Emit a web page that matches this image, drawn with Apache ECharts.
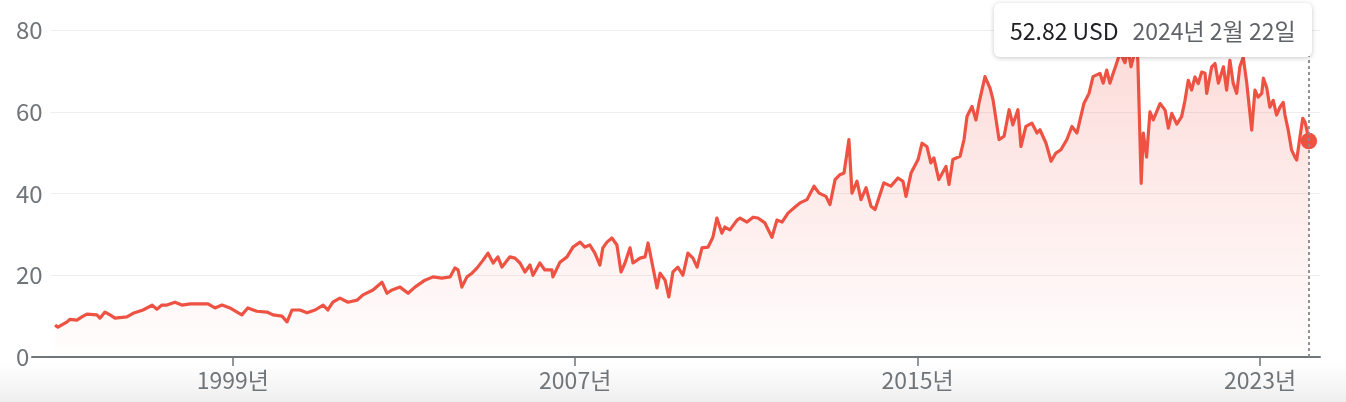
<!DOCTYPE html>
<html><head><meta charset="utf-8">
<script src="https://cdn.jsdelivr.net/npm/echarts@6/dist/echarts.min.js"></script>
<style>html,body{margin:0;padding:0;background:#fff;}#c{width:1346px;height:402px;}</style>
</head><body><div id="c"></div>
<script>
const dates = [
'1994-11-06','1994-12-01','1995-02-17','1995-03-12','1995-05-11','1995-06-23','1995-08-05','1995-10-29','1995-11-24',
'1996-01-06','1996-02-18','1996-04-01','1996-07-11','1996-09-02','1996-11-26',
'1997-02-12','1997-03-24','1997-05-06','1997-06-18','1997-08-25','1997-10-24',
'1998-01-01','1998-03-26','1998-06-03','1998-08-02','1998-10-01','1998-12-08',
'1999-02-06','1999-03-19','1999-05-09','1999-07-25','1999-10-19','1999-12-10',
'2000-02-25','2000-04-08','2000-05-20','2000-07-27','2000-09-26','2000-12-03',
'2001-02-10','2001-03-22','2001-05-04','2001-07-03','2001-09-10','2001-11-26',
'2002-01-16','2002-04-11','2002-06-27','2002-08-09','2002-09-21','2002-11-28',
'2003-02-05','2003-04-04','2003-06-29','2003-09-05','2003-11-21',
'2004-01-29','2004-03-10','2004-04-06','2004-05-09','2004-06-21','2004-08-03','2004-09-16','2004-11-06','2004-12-18',
'2005-01-31','2005-03-12','2005-04-16','2005-06-23','2005-08-05','2005-09-17','2005-10-29','2005-12-11',
'2006-01-06','2006-03-05','2006-04-17','2006-06-16','2006-06-25','2006-08-24','2006-10-23','2006-12-13',
'2007-02-12','2007-03-24','2007-05-06','2007-06-18','2007-07-31','2007-08-25','2007-09-29','2007-11-10','2007-12-23',
'2008-01-27','2008-03-01','2008-04-13','2008-05-08','2008-07-07','2008-08-19','2008-09-14','2008-10-18','2008-11-29','2008-12-25',
'2009-02-06','2009-03-10','2009-04-14','2009-05-26','2009-07-08','2009-08-20','2009-10-02','2009-11-06','2009-12-18',
'2010-02-08','2010-03-21','2010-04-24','2010-06-06','2010-07-01','2010-08-13','2010-10-13','2010-11-08',
'2011-01-06','2011-02-27','2011-04-09','2011-06-08','2011-08-07','2011-09-19','2011-11-01','2011-12-22',
'2012-02-20','2012-04-02','2012-06-01','2012-07-31','2012-09-12','2012-11-10','2012-12-14',
'2013-01-27','2013-03-09','2013-04-13','2013-05-25','2013-06-20','2013-08-02','2013-09-05','2013-10-18','2013-11-29',
'2014-01-03','2014-03-19','2014-05-18','2014-07-17','2014-08-29','2014-09-24','2014-11-06',
'2015-01-05','2015-02-08','2015-03-21','2015-04-24','2015-05-20','2015-07-01','2015-08-31','2015-09-26','2015-10-29','2015-12-29',
'2016-02-01','2016-02-27','2016-04-09','2016-05-13','2016-06-08','2016-07-29','2016-09-10','2016-10-06','2016-11-26',
'2017-01-08','2017-02-20','2017-03-24','2017-05-06','2017-06-01','2017-07-13','2017-09-03','2017-10-16','2017-11-10',
'2018-01-01','2018-02-13','2018-03-26','2018-05-08','2018-06-28','2018-08-10','2018-09-22','2018-10-18','2018-11-21',
'2019-01-03','2019-02-06','2019-04-06','2019-05-04','2019-06-03','2019-06-30','2019-07-29','2019-08-27','2019-09-24','2019-11-06','2019-12-01','2019-12-27',
'2020-01-22','2020-02-19','2020-02-24','2020-03-23','2020-04-10','2020-05-08','2020-06-06','2020-07-04','2020-08-31','2020-10-13','2020-11-10','2020-12-09',
'2021-01-21','2021-03-03','2021-04-01','2021-04-29','2021-05-27','2021-06-25','2021-07-23','2021-08-21','2021-09-19','2021-10-03','2021-11-15','2021-12-13',
'2022-01-11','2022-02-23','2022-03-22','2022-04-19','2022-05-17','2022-06-16','2022-07-13','2022-08-11','2022-09-10','2022-10-22','2022-11-19','2022-12-15',
'2023-01-16','2023-01-30','2023-02-28','2023-03-26','2023-04-24','2023-05-22','2023-06-20','2023-07-18','2023-08-02','2023-08-30','2023-09-28','2023-10-26','2023-11-10','2023-12-08',
'2024-01-01','2024-01-20','2024-02-09','2024-02-22'
];
const prices = [
7.8,7.3,8.6,9.2,9.0,9.8,10.5,10.3,9.5,
11.0,10.3,9.5,9.8,10.7,11.5,
12.7,11.7,12.7,12.7,13.4,12.7,
13.0,13.0,13.0,12.0,12.7,12.0,
11.0,10.3,12.0,11.2,11.0,10.3,
10.0,8.6,11.5,11.5,10.8,11.5,
12.7,11.5,13.4,14.4,13.4,13.9,
15.2,16.4,18.3,15.6,16.4,17.1,
15.6,17.1,18.8,19.6,19.3,
19.6,21.8,21.3,17.1,19.6,20.5,21.8,23.7,25.4,
23.0,24.5,22.0,24.5,24.2,23.0,20.8,22.5,
20.0,23.0,21.3,21.3,19.6,23.2,24.5,26.9,
28.1,26.9,27.4,25.4,22.5,26.7,28.1,29.1,27.4,
20.8,23.0,26.7,23.0,24.2,24.5,27.9,23.0,16.9,20.5,
18.8,14.7,20.8,22.0,20.0,25.4,24.2,22.0,26.7,
26.9,29.3,34.0,30.3,31.8,31.1,33.5,34.0,
33.0,34.2,34.0,32.8,29.3,33.5,33.0,35.2,
36.7,37.7,38.5,41.8,40.1,39.3,37.3,
43.4,44.6,45.0,53.2,40.1,43.0,38.5,41.4,36.9,
36.1,42.6,41.8,43.8,43.0,39.3,45.0,
48.3,52.3,51.5,47.5,48.7,43.4,46.6,42.2,48.3,49.1,
53.2,58.9,61.3,58.0,62.1,68.6,65.8,62.9,53.2,
54.0,60.5,56.8,60.5,51.5,56.4,57.2,54.8,55.6,
52.3,47.9,49.9,50.7,53.2,56.4,54.8,58.0,62.1,
64.5,68.6,69.4,67.0,70.2,67.0,69.5,71.9,74.5,72.0,75.5,71.0,
74.0,75.0,72.0,42.5,54.8,48.9,60.0,58.0,62.0,60.4,56.0,59.6,
57.0,58.8,62.8,67.7,65.3,68.5,66.9,69.7,69.4,64.5,71.0,71.8,
67.0,71.0,65.3,72.6,67.0,64.5,71.0,73.3,67.0,55.5,65.3,63.6,
64.5,68.2,65.8,61.1,62.8,59.2,61.1,62.3,59.2,55.5,50.6,48.9,48.2,53.8,
58.4,57.5,55.0,52.82
];
const yTicks = [0, 20, 40, 60, 80];
const xTickYears = [1999, 2007, 2015, 2023];
const xRange = ['1994-09-24', '2024-05-27'];
const currency = 'USD';

const FONT = '"Noto Sans CJK KR", "Noto Sans", sans-serif';
const RED = '#d94b3c';
const GRAY = '#70757a';

function toTime(s) {
  const p = s.split('-').map(Number);
  return new Date(p[0], p[1] - 1, p[2]).getTime();
}
function korDate(s) {
  const p = s.split('-').map(Number);
  return p[0] + '년 ' + p[1] + '월 ' + p[2] + '일';
}
const seriesData = dates.map((d, i) => [toTime(d), prices[i]]);
const lastIdx = dates.length - 1;
const tickTimes = xTickYears.map(y => new Date(y, 0, 1).getTime());

const chart = echarts.init(document.getElementById('c'), null, {renderer: 'canvas'});
chart.setOption({
  animation: false,
  textStyle: {fontFamily: FONT},
  graphic: [{
    type: 'rect', z: -10, silent: true,
    shape: {x: 0, y: 362, width: 1346, height: 40},
    style: {fill: {type: 'linear', x: 0, y: 0, x2: 0, y2: 1,
      colorStops: [{offset: 0, color: '#ffffff'}, {offset: 1, color: '#efefef'}]}}
  }],
  grid: [
    {left: 50, right: 26, top: 30, bottom: 45},
    {left: 32, right: 26, top: 30, bottom: 45}
  ],
  xAxis: [{
    type: 'value', gridIndex: 0, min: toTime(xRange[0]), max: toTime(xRange[1]),
    axisLine: {show: false},
    axisTick: {show: true, customValues: tickTimes, length: 9, lineStyle: {color: GRAY, width: 1.5}},
    axisLabel: {customValues: tickTimes, formatter: v => new Date(v).getFullYear() + '년',
      fontSize: 23, color: GRAY, margin: 12, fontFamily: FONT},
    splitLine: {show: false}
  }, {
    type: 'value', gridIndex: 1, min: 0, max: 1, z: 5,
    axisLine: {show: true, lineStyle: {color: GRAY, width: 2}},
    axisTick: {show: false}, axisLabel: {show: false}, splitLine: {show: false}
  }],
  yAxis: [{
    type: 'value', gridIndex: 0, min: yTicks[0], max: yTicks[yTicks.length - 1], interval: yTicks[1] - yTicks[0],
    axisLine: {show: false}, axisTick: {show: false},
    axisLabel: {align: 'left', margin: 34, fontSize: 24, color: GRAY, fontFamily: FONT},
    splitLine: {lineStyle: {color: '#eeeeee', width: 1}}
  }, {
    type: 'value', gridIndex: 1, min: 0, max: 1, show: false
  }],
  tooltip: {
    trigger: 'axis', triggerOn: 'none', alwaysShowContent: true, transitionDuration: 0,
    position: [994, 3], padding: 0, borderWidth: 0, backgroundColor: '#ffffff',
    extraCssText: 'box-shadow:0 1px 5px rgba(0,0,0,0.22);border-radius:6px;',
    axisPointer: {type: 'line', label: {show: false}, lineStyle: {color: '#8c8c8c', type: [3, 3], width: 1.5}},
    formatter: () => '<div style="font-family:' + FONT.replace(/"/g, "'") + ';font-size:23px;line-height:54px;padding:0 16px;white-space:nowrap;">' +
      '<span style="color:#202124">' + prices[lastIdx].toFixed(2) + ' ' + currency + '</span>' +
      '<span style="color:#5f6368;margin-left:14px">' + korDate(dates[lastIdx]) + '</span></div>'
  },
  series: [{
    type: 'line', xAxisIndex: 0, yAxisIndex: 0, data: seriesData,
    showSymbol: false, symbol: 'none',
    lineStyle: {color: RED, width: 3.2, join: 'round'},
    itemStyle: {color: RED},
    areaStyle: {color: {type: 'linear', x: 0, y: 0, x2: 0, y2: 1,
      colorStops: [{offset: 0, color: 'rgba(219,68,55,0.28)'}, {offset: 1, color: 'rgba(219,68,55,0.01)'}]}},
    z: 3
  }, {
    type: 'scatter', xAxisIndex: 0, yAxisIndex: 0,
    data: [seriesData[lastIdx]],
    symbolSize: 15, itemStyle: {color: RED, opacity: 1}, z: 6, silent: true
  }]
});
chart.dispatchAction({type: 'showTip', seriesIndex: 0, dataIndex: lastIdx});
</script>
</body></html>
